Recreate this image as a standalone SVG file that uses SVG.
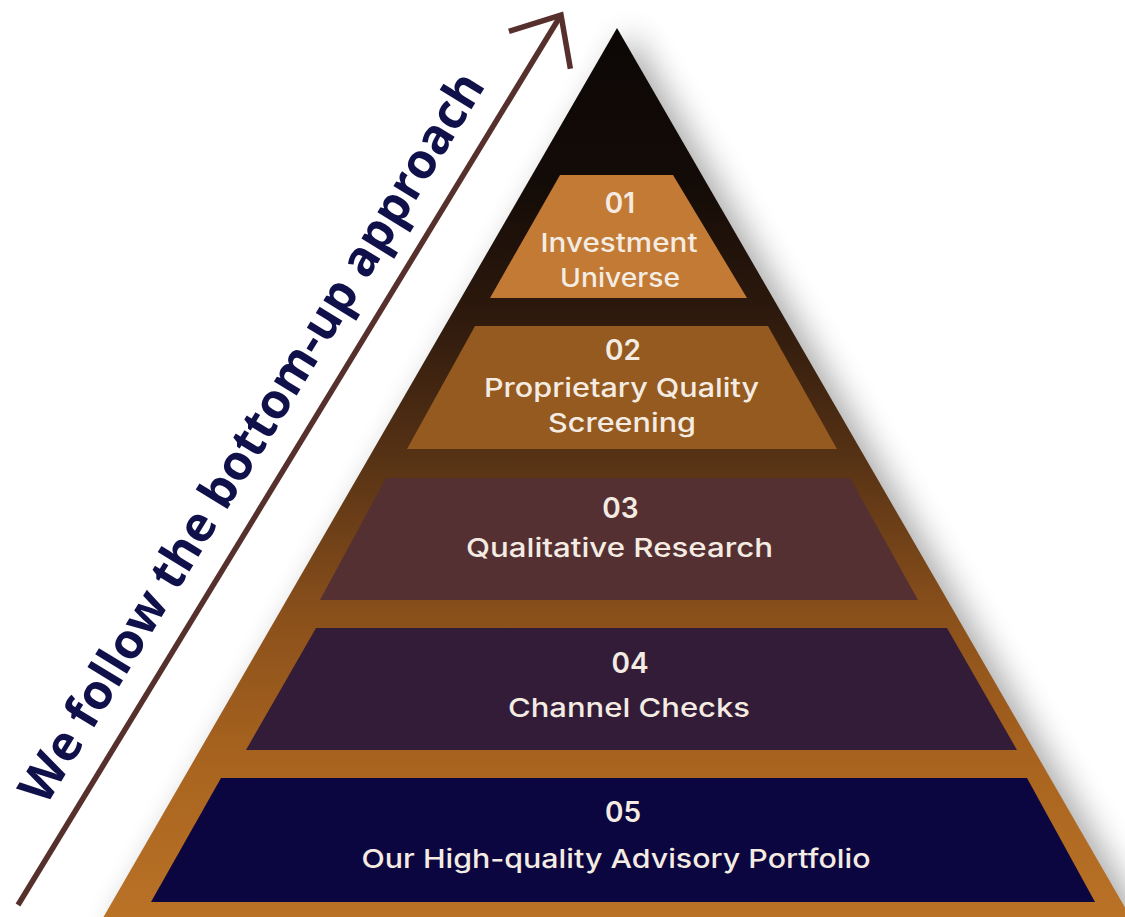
<svg xmlns="http://www.w3.org/2000/svg" width="1125" height="917" viewBox="0 0 1125 917">
  <defs>
    <linearGradient id="pyrFill" gradientUnits="userSpaceOnUse" x1="0" y1="28" x2="0" y2="917">
      <stop offset="0" stop-color="#0c0706"/>
      <stop offset="0.17" stop-color="#130b07"/>
      <stop offset="0.32" stop-color="#2d190d"/>
      <stop offset="0.49" stop-color="#583315"/>
      <stop offset="0.66" stop-color="#8a501b"/>
      <stop offset="0.83" stop-color="#a9641f"/>
      <stop offset="1" stop-color="#b97226"/>
    </linearGradient>
    <filter id="softShadow" x="-20%" y="-20%" width="140%" height="140%">
      <feGaussianBlur stdDeviation="16"/>
    </filter>
    <marker id="chevron" markerUnits="userSpaceOnUse" viewBox="-60 -60 120 120" markerWidth="120" markerHeight="120" refX="0" refY="0" orient="auto" overflow="visible">
      <path d="M-41,-36 L0,0 L-41,36" fill="none" stroke="#56302c" stroke-width="5.5"/>
    </marker>
    <style>
      .num { font-family: Inter, "Open Sans", "Liberation Sans", sans-serif; font-weight: 600; font-size: 28px; fill: #f4ece2; text-anchor: middle; }
      .lbl { font-family: Inter, "Open Sans", "Liberation Sans", sans-serif; font-weight: 500; font-size: 26px; fill: #f4ece2; text-anchor: middle; }
      .tag { font-family: "Open Sans", "Liberation Sans", sans-serif; font-weight: 700; font-size: 49px; fill: #10104a; text-anchor: middle; }
      .arrow { stroke: #56302c; stroke-width: 5.5; fill: none; }
    </style>
  </defs>

  <rect width="1125" height="917" fill="#ffffff"/>

  <!-- pyramid body with soft drop shadow -->
  <g id="pyramid">
    <polygon points="617,28 1138,930 96,930" transform="translate(14,4)" fill="#000" opacity="0.32" filter="url(#softShadow)"/>
    <polygon points="617,28 1138,930 96,930" fill="url(#pyrFill)"/>
  </g>

  <g id="tier-01">
    <polygon points="560,175 673,175 747,298 490,298" fill="#c27a34"/>
    <text class="num" x="620" y="213">01</text>
    <text class="lbl" x="619" y="252" textLength="157" lengthAdjust="spacingAndGlyphs">Investment</text>
    <text class="lbl" x="620" y="287" textLength="120" lengthAdjust="spacingAndGlyphs">Universe</text>
  </g>

  <g id="tier-02">
    <polygon points="475,326 768,326 837,449 407,449" fill="#955a20"/>
    <text class="num" x="623" y="360">02</text>
    <text class="lbl" x="621.5" y="397" textLength="275" lengthAdjust="spacingAndGlyphs">Proprietary Quality</text>
    <text class="lbl" x="622" y="432" textLength="148" lengthAdjust="spacingAndGlyphs">Screening</text>
  </g>

  <g id="tier-03">
    <polygon points="386,478 850,478 918,600 320,600" fill="#553033"/>
    <text class="num" x="620.5" y="518">03</text>
    <text class="lbl" x="619.5" y="557" textLength="307" lengthAdjust="spacingAndGlyphs">Qualitative Research</text>
  </g>

  <g id="tier-04">
    <polygon points="316,628 947,628 1017,750 246,750" fill="#331c38"/>
    <text class="num" x="630" y="673">04</text>
    <text class="lbl" x="629" y="717" textLength="242" lengthAdjust="spacingAndGlyphs">Channel Checks</text>
  </g>

  <g id="tier-05">
    <polygon points="221,778 1027,778 1095,902 151,902" fill="#0b0540"/>
    <text class="num" x="623" y="822">05</text>
    <text class="lbl" x="616" y="868" textLength="509" lengthAdjust="spacingAndGlyphs">Our High-quality Advisory Portfolio</text>
  </g>

  <!-- upward arrow beside the pyramid -->
  <g id="connectors">
    <line class="arrow" x1="18" y1="905" x2="561" y2="15" marker-end="url(#chevron)"/>
  </g>

  <g id="caption">
    <text class="tag" transform="translate(266,446) rotate(-58.6)" textLength="845" lengthAdjust="spacingAndGlyphs">We follow the bottom-up approach</text>
  </g>
</svg>
